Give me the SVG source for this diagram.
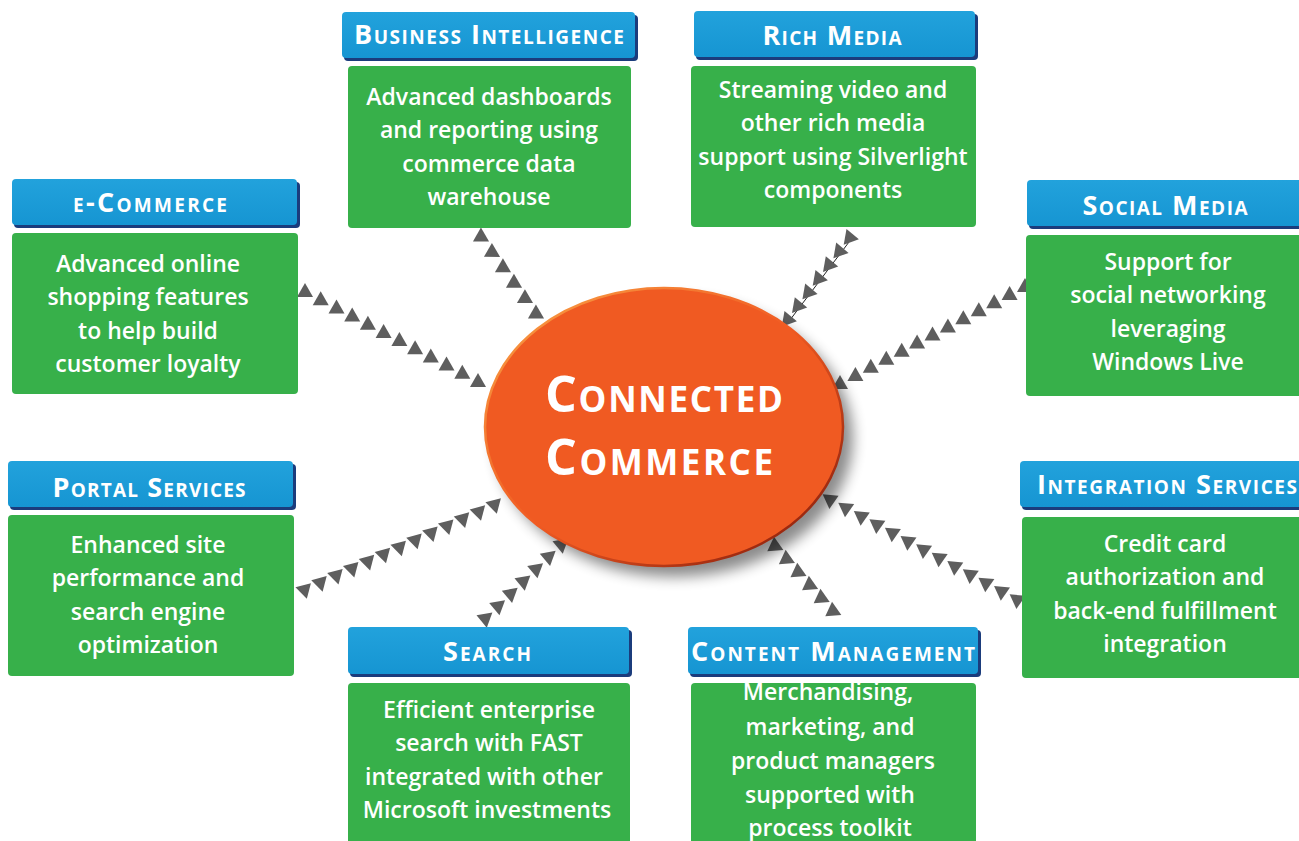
<svg xmlns="http://www.w3.org/2000/svg" width="1299" height="841" viewBox="0 0 1299 841">
<style>
.hdr{fill:#1A9BD7}
.hdrs{fill:#1B3C7C}
.body{fill:#37B04A}
.ht{font-family:"Open Sans","Liberation Sans",sans-serif;font-weight:700;font-size:27px;fill:#fff;font-variant:small-caps;text-anchor:middle}
.bt{font-family:"Open Sans","Liberation Sans",sans-serif;font-weight:600;font-size:23px;fill:#fff;text-anchor:middle}
.ct{font-family:"Open Sans","Liberation Sans",sans-serif;font-weight:700;font-size:50px;fill:#fff;font-variant:small-caps;text-anchor:middle}
.conn{fill:none;stroke:none}
</style>
<defs>
<filter id="sh" x="-20%" y="-20%" width="140%" height="140%"><feGaussianBlur stdDeviation="7"/></filter>
<linearGradient id="rim" x1="0" y1="0" x2="1" y2="1"><stop offset="0" stop-color="#F9A547"/><stop offset="0.5" stop-color="#F05A22"/><stop offset="1" stop-color="#7A1508"/></linearGradient>
<linearGradient id="hg" x1="0" y1="0" x2="0" y2="1"><stop offset="0" stop-color="#22A2DC"/><stop offset="1" stop-color="#1695D2"/></linearGradient>
<marker id="tu" markerUnits="userSpaceOnUse" viewBox="-10 -10 20 20" markerWidth="20" markerHeight="20" refX="0" refY="0" orient="-90"><path d="M7,0 L-7,-8 L-7,8 Z" fill="#5E5E5E"/></marker>
<marker id="tbi" markerUnits="userSpaceOnUse" viewBox="-10 -10 20 20" markerWidth="20" markerHeight="20" refX="0" refY="0" orient="30"><path d="M7,0 L-7,-8 L-7,8 Z" fill="#5E5E5E"/></marker>
<marker id="trm" markerUnits="userSpaceOnUse" viewBox="-10 -10 20 20" markerWidth="20" markerHeight="20" refX="0" refY="0" orient="10"><path d="M7,0 L-7,-8 L-7,8 Z" fill="#5E5E5E"/></marker>
<marker id="tps" markerUnits="userSpaceOnUse" viewBox="-10 -10 20 20" markerWidth="20" markerHeight="20" refX="0" refY="0" orient="75"><path d="M7,0 L-7,-8 L-7,8 Z" fill="#5E5E5E"/></marker>
<marker id="tse" markerUnits="userSpaceOnUse" viewBox="-10 -10 20 20" markerWidth="20" markerHeight="20" refX="0" refY="0" orient="-40"><path d="M7,0 L-7,-8 L-7,8 Z" fill="#5E5E5E"/></marker>
<marker id="tcm" markerUnits="userSpaceOnUse" viewBox="-10 -10 20 20" markerWidth="20" markerHeight="20" refX="0" refY="0" orient="25"><path d="M7,0 L-7,-8 L-7,8 Z" fill="#5E5E5E"/></marker>
<marker id="tis" markerUnits="userSpaceOnUse" viewBox="-10 -10 20 20" markerWidth="20" markerHeight="20" refX="0" refY="0" orient="95"><path d="M7,0 L-7,-8 L-7,8 Z" fill="#5E5E5E"/></marker>
</defs>
<rect width="1299" height="841" fill="#fff"/>

<g id="connectors">
<polyline class="conn" marker-start="url(#tu)" marker-mid="url(#tu)" marker-end="url(#tu)" points="305,290 320.7,298.2 336.5,306.4 352.2,314.5 367.9,322.7 383.6,330.9 399.4,339.1 415.1,347.3 430.8,355.5 446.5,363.6 462.3,371.8 478,380"/>
<polyline class="conn" marker-start="url(#tbi)" marker-mid="url(#tbi)" marker-end="url(#tbi)" points="483,238 494,253.4 505,268.8 516,284.2 527,299.6 538,315"/>
<polyline fill="none" stroke="#222" stroke-width="1" marker-start="url(#trm)" marker-mid="url(#trm)" marker-end="url(#trm)" points="852,238 841.7,251.7 831.3,265.3 821,279 810.7,292.7 800.3,306.3 790,320"/>
<polyline class="conn" marker-start="url(#tu)" marker-mid="url(#tu)" marker-end="url(#tu)" points="1025,285 1009.6,293.1 994.2,301.2 978.8,309.3 963.3,317.3 947.9,325.4 932.5,333.5 917.1,341.6 901.7,349.7 886.3,357.8 870.8,365.8 855.4,373.9 840,382"/>
<polyline class="conn" marker-start="url(#tps)" marker-mid="url(#tps)" marker-end="url(#tps)" points="305,592 320.8,584.9 336.7,577.8 352.5,570.8 368.3,563.7 384.2,556.6 400,549.5 415.8,542.4 431.7,535.3 447.5,528.3 463.3,521.2 479.2,514.1 495,507"/>
<polyline class="conn" marker-start="url(#tse)" marker-mid="url(#tse)" marker-end="url(#tse)" points="487,617 499.7,604.7 512.3,592.3 525,580 537.7,567.7 550.3,555.3 563,543"/>
<polyline class="conn" marker-start="url(#tcm)" marker-mid="url(#tcm)" marker-end="url(#tcm)" points="777,547 788.6,560 800.2,573 811.8,586 823.4,599 835,612"/>
<polyline class="conn" marker-start="url(#tis)" marker-mid="url(#tis)" marker-end="url(#tis)" points="830,502 845.6,510.3 861.2,518.7 876.8,527 892.3,535.3 907.9,543.7 923.5,552 939.1,560.3 954.7,568.7 970.2,577 985.8,585.3 1001.4,593.7 1017,602"/>
</g>

<g id="center">
<ellipse cx="674" cy="438" rx="179" ry="139" fill="#000" opacity="0.45" filter="url(#sh)"/>
<ellipse cx="664" cy="427" rx="179" ry="139" fill="#F05A22" stroke="url(#rim)" stroke-width="2.5"/>
<text class="ct" x="664" y="412" textLength="238" lengthAdjust="spacing">Connected</text>
<text class="ct" x="659" y="475" textLength="228" lengthAdjust="spacing">Commerce</text>
</g>

<g id="business-intelligence">
<rect class="hdrs" x="344" y="15" width="294" height="46" rx="4"/>
<rect fill="url(#hg)" x="342" y="12" width="293" height="46" rx="4"/>
<text class="ht" x="489" y="44" textLength="270" lengthAdjust="spacing">Business Intelligence</text>
<rect class="body" x="348" y="66" width="283" height="162" rx="4"/>
<text class="bt" x="489" y="105">Advanced dashboards</text>
<text class="bt" x="489" y="138">and reporting using</text>
<text class="bt" x="489" y="172">commerce data</text>
<text class="bt" x="489" y="205">warehouse</text>
</g>

<g id="rich-media">
<rect class="hdrs" x="696" y="14" width="282" height="46" rx="4"/>
<rect fill="url(#hg)" x="694" y="11" width="281" height="46" rx="4"/>
<text class="ht" x="832" y="45" textLength="139" lengthAdjust="spacing">Rich Media</text>
<rect class="body" x="691" y="66" width="285" height="161" rx="4"/>
<text class="bt" x="833" y="98">Streaming video and</text>
<text class="bt" x="833" y="131">other rich media</text>
<text class="bt" x="833" y="165">support using Silverlight</text>
<text class="bt" x="833" y="198">components</text>
</g>

<g id="e-commerce">
<rect class="hdrs" x="14" y="182" width="286" height="46" rx="4"/>
<rect fill="url(#hg)" x="12" y="179" width="285" height="46" rx="4"/>
<text class="ht" x="150" y="212" textLength="154" lengthAdjust="spacing">e-Commerce</text>
<rect class="body" x="12" y="233" width="286" height="161" rx="4"/>
<text class="bt" x="148" y="272">Advanced online</text>
<text class="bt" x="148" y="305">shopping features</text>
<text class="bt" x="148" y="339">to help build</text>
<text class="bt" x="148" y="372">customer loyalty</text>
</g>

<g id="social-media">
<rect class="hdrs" x="1029" y="183" width="290" height="46" rx="4"/>
<rect fill="url(#hg)" x="1027" y="180" width="290" height="46" rx="4"/>
<text class="ht" x="1165" y="215" textLength="165" lengthAdjust="spacing">Social Media</text>
<rect class="body" x="1026" y="235" width="290" height="161" rx="4"/>
<text class="bt" x="1168" y="270">Support for</text>
<text class="bt" x="1168" y="303">social networking</text>
<text class="bt" x="1168" y="337">leveraging</text>
<text class="bt" x="1168" y="370">Windows Live</text>
</g>

<g id="portal-services">
<rect class="hdrs" x="10" y="464" width="286" height="46" rx="4"/>
<rect fill="url(#hg)" x="8" y="461" width="285" height="46" rx="4"/>
<text class="ht" x="149" y="497" textLength="193" lengthAdjust="spacing">Portal Services</text>
<rect class="body" x="8" y="515" width="286" height="161" rx="4"/>
<text class="bt" x="148" y="553">Enhanced site</text>
<text class="bt" x="148" y="586">performance and</text>
<text class="bt" x="148" y="620">search engine</text>
<text class="bt" x="148" y="653">optimization</text>
</g>

<g id="integration-services">
<rect class="hdrs" x="1022" y="464" width="290" height="46" rx="4"/>
<rect fill="url(#hg)" x="1020" y="461" width="290" height="46" rx="4"/>
<text class="ht" x="1167" y="494" textLength="260" lengthAdjust="spacing">Integration Services</text>
<rect class="body" x="1022" y="517" width="290" height="161" rx="4"/>
<text class="bt" x="1165" y="552">Credit card</text>
<text class="bt" x="1165" y="585">authorization and</text>
<text class="bt" x="1165" y="619">back-end fulfillment</text>
<text class="bt" x="1165" y="652">integration</text>
</g>

<g id="search">
<rect class="hdrs" x="350" y="630" width="282" height="47" rx="4"/>
<rect fill="url(#hg)" x="348" y="627" width="281" height="47" rx="4"/>
<text class="ht" x="487" y="661" textLength="88" lengthAdjust="spacing">Search</text>
<rect class="body" x="348" y="683" width="282" height="170" rx="4"/>
<text class="bt" x="489" y="718">Efficient enterprise</text>
<text class="bt" x="489" y="751">search with FAST</text>
<text class="bt" x="484" y="785">integrated with other</text>
<text class="bt" x="487" y="818">Microsoft investments</text>
</g>

<g id="content-management">
<rect class="hdrs" x="690" y="630" width="291" height="47" rx="4"/>
<rect fill="url(#hg)" x="688" y="627" width="290" height="47" rx="4"/>
<text class="ht" x="833" y="661" textLength="284" lengthAdjust="spacing">Content Management</text>
<rect class="body" x="691" y="683" width="285" height="170" rx="4"/>
<text class="bt" x="828" y="700">Merchandising,</text>
<text class="bt" x="830" y="735">marketing, and</text>
<text class="bt" x="833" y="769">product managers</text>
<text class="bt" x="830" y="803">supported with</text>
<text class="bt" x="830" y="836">process toolkit</text>
</g>
</svg>
